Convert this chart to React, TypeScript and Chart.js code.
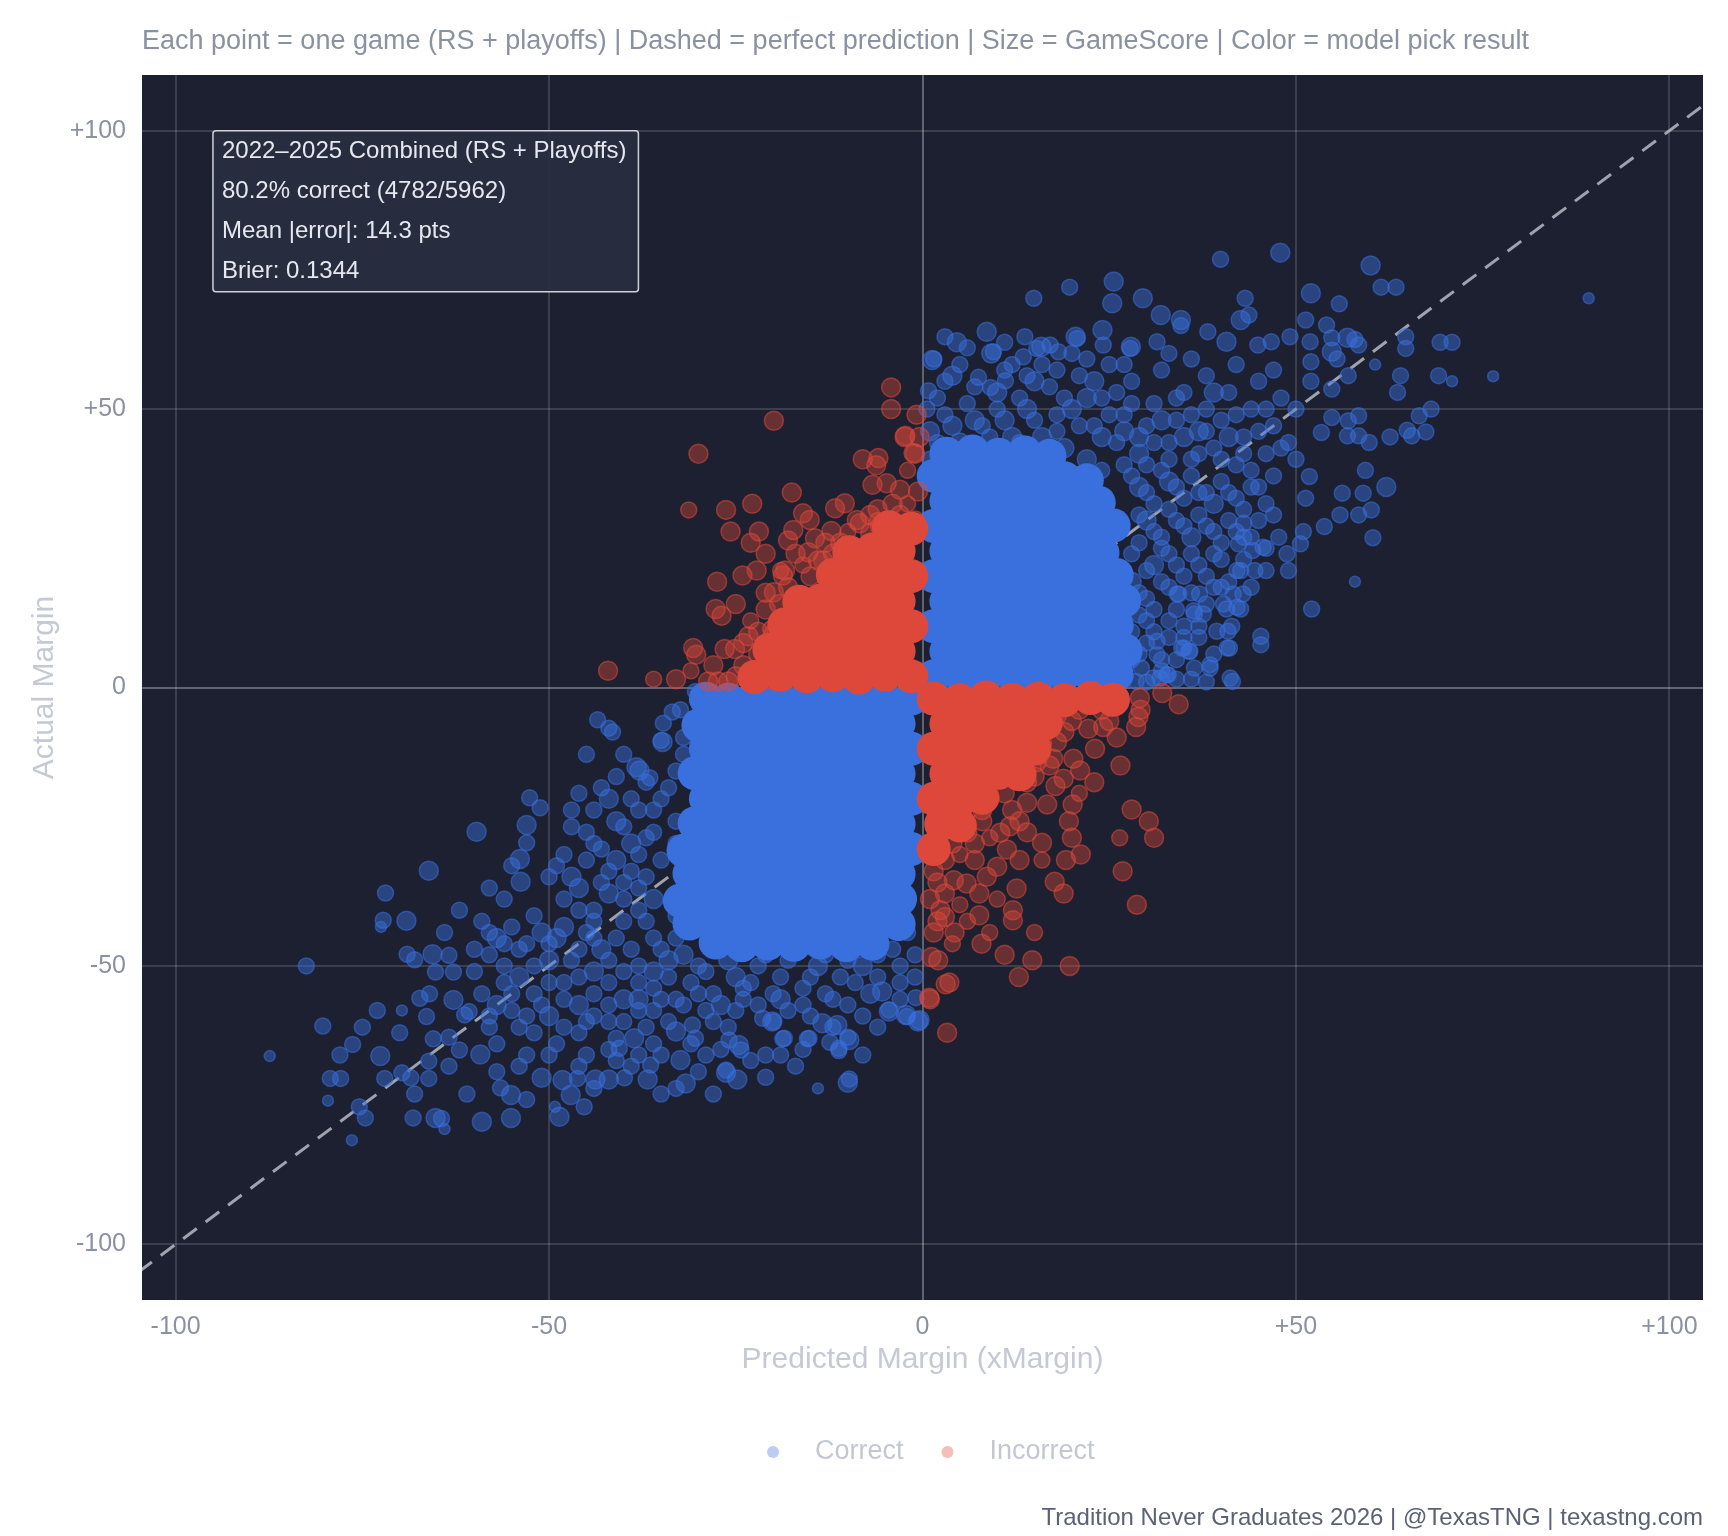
import { useEffect, useRef } from 'react';
import { Chart, registerables, ChartConfiguration } from 'chart.js';

Chart.register(...registerables);

// axis ticks
const xTicks = [-100, -50, 0, 50, 100];
const yTicks = [-100, -50, 0, 50, 100];

const seriesLabels = ['Correct', 'Incorrect'];

const summaryLines = [
    '2022–2025 Combined (RS + Playoffs)',
    '80.2% correct (4782/5962)',
    'Mean |error|: 14.3 pts',
    'Brier: 0.1344',
];

// dashed y = x reference
const perfectLine: [number, number][] = [[-105, -105], [105, 105]];

// [predicted, actual, size class (GameScore)]
const correctGames: [number, number, number][] = [
    // upper right, outer
    [39.9, 76.9, 2], [47.9, 78.1, 3], [60, 75.8, 3], [61.4, 71.9, 2], [63.4, 71.9, 2], [89.2, 69.9, 1], [52, 70.8, 3],
    [55.8, 68.9, 2], [43.2, 69.9, 2], [42.6, 66, 3], [43.7, 66.9, 2], [51.3, 66, 2], [54.1, 65.1, 2], [19.7, 71.9, 2],
    [25.6, 72.9, 3], [25.4, 69, 3], [29.5, 69.9, 3], [14.9, 69.9, 2], [31.9, 66.9, 3], [34.6, 66, 3], [34.6, 65, 2],
    [8.6, 63.9, 3], [4.6, 62, 3], [1.3, 58.8, 3], [13.7, 63, 2], [15.9, 61.2, 3], [9.2, 60, 3], [20.5, 63, 3],
    [24.1, 64.2, 3], [27.9, 61.2, 3], [31.4, 62.1, 2], [38.2, 63.9, 2], [40.7, 62.1, 3], [44.9, 61.5, 2], [46.7, 62.1, 2],
    [49.2, 63, 2], [51.9, 62.1, 2], [54.8, 62.8, 2], [56.9, 62.8, 3], [57.9, 62.5, 2], [64.7, 63, 2], [64.7, 60.9, 2],
    [69.3, 62, 2], [70.9, 62, 2], [60.6, 58, 1], [64, 56, 2], [63.6, 53, 2], [69.1, 56, 2], [70.9, 55, 1], [76.4, 55.9, 1],
    [58.4, 61.5, 2], [54.8, 60.3, 3], [55.5, 59, 2], [52, 58.5, 2], [54.8, 53.6, 2], [57, 56, 2], [66.5, 48.8, 2],
    [68.1, 50, 2], [64.9, 46.2, 2], [65.5, 45.2, 2], [67.4, 45.9, 2], [62.6, 45, 2], [59.8, 44, 2], [58.4, 45.2, 2],
    [56.9, 45.2, 2], [58.4, 48.8, 2], [57, 47.9, 2], [54.8, 48.5, 2], [53.4, 45.8, 2], [59.3, 39, 2], [62.1, 36, 3],
    [59, 34.9, 2], [56.2, 34.9, 2], [60.1, 31.9, 2], [58.4, 31, 2], [55.9, 31, 2], [60.3, 26.9, 2], [51.8, 37.9, 2],
    [51.3, 34, 2], [53.8, 28.9, 2], [51, 28, 2], [50.6, 25.8, 2], [47.7, 27, 2], [48.8, 24, 2], [49, 21, 2], [57.9, 19, 1],
    [52.1, 14.1, 2], [45.6, 25.2, 2], [44.2, 24.6, 2], [42.6, 21, 2], [44.5, 21, 2], [42.9, 16.8, 2], [40.7, 14.1, 2],
    [42.6, 14.1, 2], [41.6, 16.8, 2], [40.9, 10.1, 2], [45.3, 9.2, 2], [45.3, 7.7, 2], [41.4, 11, 2], [41.1, 7.1, 2],
    [38.5, 4.1, 2], [36.4, 3.5, 2], [41.5, 1.1, 2], [35, 7.1, 2], [35.7, 6.5, 2], [32.9, 2.3, 2], [31.8, 1.7, 2],
    [31.4, 5.9, 2], [29.3, 3.5, 2], [28.6, 1.1, 2], [37.1, 16.8, 2], [36.4, 13.2, 2], [34.3, 16.8, 2],
    [1.5, 59, 2], [0.8, 53.3, 2], [0.6, 50, 2], [7.5, 55.7, 2], [9.1, 53.9, 2], [11.1, 55.1, 2], [14, 56, 2],
    [15.3, 60.9, 2], [17.1, 61.5, 2], [18.2, 60.3, 2], [9.5, 60.3, 2], [13.5, 59.4, 2], [20.7, 62.7, 2], [24.2, 61.5, 2],
    [27.8, 60.9, 2], [39.4, 10.1, 2], [40.8, 7.1, 2], [38.5, 3.5, 2], [41.2, 1.7, 2], [35.8, 6.5, 2], [34.7, 7.1, 2],
    [34.1, 16.8, 2], [36.3, 13.8, 2], [37.6, 13.2, 2], [42.1, 14.4, 2], [40.3, 15, 2], [31.4, 8.3, 2], [30.9, 1.7, 2],
    [32.7, 2.3, 2], [42.1, 21, 2], [42.3, 25.8, 2], [43, 29.5, 2],
    // upper right, middle band
    [2, 44, 2], [4, 47, 3], [6, 51, 2], [3, 55, 2], [8, 47, 2], [10, 50, 2], [12, 45, 3], [13, 52, 2], [15, 48, 2],
    [17, 54, 2], [18, 46, 2], [20, 50, 3], [21, 56, 2], [23, 47, 2], [24, 52, 2], [26, 44, 2], [27, 49, 2], [28, 55, 2],
    [29, 42, 3], [30, 47, 2], [31, 51, 2], [32, 57, 2], [33, 44, 2], [34, 48, 2], [35, 53, 2], [36, 41, 2], [37, 46, 3],
    [38, 50, 2], [38, 56, 2], [39, 43, 2], [40, 48, 2], [41, 53, 2], [42, 40, 2], [43, 45, 2], [44, 50, 2], [45, 55, 2],
    [46, 42, 2], [47, 47, 2], [48, 52, 2], [49, 44, 2], [50, 41, 2], [5, 58, 2], [11, 57, 2], [16, 58, 2], [22, 59, 2],
    [27, 58, 2], [33, 60, 2], [36, 59, 2], [42, 58, 2], [47, 57, 2], [52, 55, 2], [50, 50, 2],
    [28, 38, 2], [30, 35, 2], [32, 39, 2], [34, 36, 2], [36, 38, 2], [38, 35, 2], [40, 37, 2], [42, 34, 2], [44, 36, 2],
    [46, 33, 2], [29, 31, 2], [31, 28, 2], [33, 32, 2], [35, 29, 2], [37, 31, 2], [39, 28, 2], [41, 30, 2], [43, 27, 2],
    [45, 30, 2], [28, 24, 2], [30, 21, 2], [32, 25, 2], [34, 22, 2], [36, 24, 2], [38, 20, 2], [40, 23, 2], [29, 17, 2],
    [31, 14, 2], [33, 18, 2], [35, 11, 2], [28, 10, 2], [30, 12, 2], [33, 9, 2], [37, 9, 2], [29, 6, 2], [32, 5, 2],
    [27, 3, 2], [34, 1.5, 2], [39, 18, 2], [44, 18, 2],
    [1, 46, 3], [3, 49, 2], [5, 44, 3], [7, 48, 3], [9, 45, 2], [11, 48, 3], [13, 44, 2], [14, 50, 3], [16, 45, 3],
    [18, 49, 2], [19, 43, 3], [21, 47, 2], [22, 52, 3], [24, 45, 3], [25, 49, 2], [26, 53, 2], [27, 46, 3], [2, 52, 2],
    [4, 56, 3], [7, 54, 2], [10, 53, 3], [12, 58, 2], [15, 55, 3], [18, 57, 2], [19, 52, 2], [23, 55, 3], [25, 58, 2],
    [28, 51, 2], [6, 61, 2], [3, 63, 2], [11, 62, 2], [20, 60, 2], [8, 42, 3], [15, 41, 2], [22, 41, 3], [24, 39, 2],
    [27, 40, 2], [1, 41, 2], [3, 38, 2], [17, 38, 2],
    [29, 45, 3], [30, 40, 2], [31, 44, 2], [32, 48, 3], [33, 41, 2], [34, 52, 2], [35, 45, 3], [36, 49, 2], [37, 42, 2],
    [38, 46, 2], [39, 53, 3], [40, 41, 2], [41, 45, 3], [42, 49, 2], [43, 42, 2], [44, 39, 2], [45, 46, 2], [46, 50, 2],
    [47, 38, 2], [48, 43, 2], [29, 36, 3], [31, 33, 2], [33, 37, 3], [35, 34, 2], [37, 35, 2], [39, 33, 3], [41, 35, 2],
    [43, 32, 2], [45, 36, 2], [47, 31, 2], [30, 30, 3], [32, 27, 2], [34, 30, 2], [36, 27, 3], [38, 29, 2], [40, 26, 2],
    [42, 28, 2], [44, 27, 2], [46, 25, 2], [29, 26, 2], [31, 22, 3], [33, 24, 2], [35, 20, 2], [37, 22, 2], [39, 24, 2],
    [41, 19, 2], [43, 23, 2], [46, 21, 2], [28, 19, 3], [30, 16, 2], [32, 19, 2], [34, 14, 2], [36, 17, 2], [38, 15, 2],
    [40, 18, 2], [29, 13, 2], [31, 10, 2], [33, 12, 2], [35, 9, 2], [37, 11, 2], [30, 8, 2], [28, 5, 2], [32, 3, 2],
    [34, 5, 2], [36, 1.5, 2], [39, 6, 2], [38, 1, 2], [30, 1, 2],
    // lower left, outer
    [-87.4, -66.2, 1], [-82.5, -50, 2], [-76.3, -64.1, 2], [-72.6, -66.2, 3], [-79.3, -70.2, 2], [-77.9, -70.2, 2],
    [-79.6, -74.2, 1], [-75.4, -75.3, 2], [-74.6, -77.3, 2], [-76.4, -81.3, 1], [-72, -70.2, 2], [-69.7, -69.2, 2],
    [-68.5, -70.1, 2], [-66.1, -70.2, 2], [-68.2, -77.3, 2], [-65.2, -77.3, 3], [-64.4, -77.4, 2], [-64, -79.3, 1],
    [-59, -78, 3], [-55.1, -77.3, 3], [-66.1, -32.9, 3], [-71.9, -36.9, 2], [-72.2, -41.8, 2], [-72.5, -43, 1],
    [-69.1, -41.9, 3], [-59.7, -25.9, 3], [-52.6, -19.8, 2], [-51.2, -21.6, 2], [-53, -24.7, 3], [-53, -27.9, 2],
    [-53.9, -30.8, 3], [-53.8, -34.9, 3], [-69, -47.9, 2], [-68, -48.9, 2], [-65.6, -47.9, 3], [-63.4, -48.1, 2],
    [-65.2, -51.1, 2], [-62.8, -51.1, 2], [-67.3, -55.8, 2], [-69.7, -58, 1], [-66.4, -59.1, 2], [-62.8, -56.1, 3],
    [-61.3, -58.8, 2], [-60.7, -58.2, 2], [-65.5, -63.1, 2], [-63.4, -62.8, 2], [-62, -65.1, 2], [-59.2, -65.9, 3],
    [-66.1, -67.1, 2], [-63.4, -68, 2], [-56.5, -71.9, 2], [-55.1, -73.2, 3], [-51, -70.1, 3], [-48.6, -77.1, 3],
    [-49.2, -75.3, 1], [-47.1, -73.2, 3], [-45.3, -75.3, 2], [-48.2, -70.5, 3], [-46.2, -70.2, 2], [-43.8, -70.4, 3],
    [-42, -70.4, 3], [-39.9, -70.1, 2], [-36.8, -70.4, 3], [-31.7, -71.1, 3], [-26.3, -69.2, 3], [-24.8, -70.4, 3],
    [-10, -71, 3], [-43.5, -5.8, 2], [-42, -7.3, 2], [-38.3, -14.3, 3], [-36.5, -16.2, 2], [-34.7, -6.4, 2],
    [-35, -9.5, 2], [-18.7, -63.1, 2], [-15.4, -63.1, 2], [-12.4, -63.7, 2], [-11.2, -65.2, 2], [-10, -62.8, 2],
    [-5.4, -54.6, 3], [-4.5, -58.2, 3], [-2.1, -59.1, 2], [-0.6, -60, 3], [-41.5, -8, 2], [-37.9, -14.9, 3],
    [-34.8, -9.8, 3], [-33.5, -4.4, 2], [-32.4, -4, 2], [-30.4, -0.7, 2], [-30.1, -2.2, 2], [-4.5, -57.9, 2],
    [-0.4, -59.7, 3], [-2.2, -58.8, 3], [-0.9, -55.7, 2], [-9.8, -63.3, 3], [-11.2, -64.8, 2], [-15.2, -63, 2],
    [-13.4, -60.3, 3], [-11.4, -60.6, 3], [-18.5, -63, 2], [-20.1, -60, 3], [-21.4, -59.4, 2], [-24.6, -64.2, 3],
    [-25.9, -63.3, 2], [-24.3, -65.1, 2], [-26.3, -68.7, 2], [-32.4, -66.9, 3], [-36.4, -67.8, 2], [-38.6, -63, 3],
    [-40.6, -64.8, 2], [-9.8, -70.3, 2], [-33, -61.8, 3], [-30.8, -60.6, 2], [-30.4, -63, 2], [-80.3, -60.8, 2],
    // lower left, middle band
    [-45, -12, 2], [-43, -18, 2], [-47, -22, 2], [-41, -24, 3], [-44, -28, 2], [-48, -30, 2], [-39, -20, 2],
    [-37, -27, 2], [-50, -34, 2], [-46, -36, 3], [-42, -33, 2], [-38, -36, 2], [-35, -31, 2], [-56, -38, 2],
    [-52, -41, 2], [-48, -43, 3], [-44, -40, 2], [-40, -42, 2], [-36, -45, 2], [-58, -44, 2], [-54, -47, 2],
    [-50, -49, 3], [-46, -47, 2], [-42, -49, 2], [-38, -50, 2], [-60, -51, 2], [-56, -53, 2], [-52, -55, 2],
    [-48, -53, 2], [-44, -55, 2], [-40, -56, 3], [-36, -54, 2], [-32, -57, 2], [-28, -55, 2], [-24, -56, 2],
    [-20, -55, 2], [-16, -54, 2], [-12, -56, 2], [-58, -59, 2], [-54, -61, 2], [-50, -59, 3], [-46, -62, 2],
    [-42, -60, 2], [-38, -58, 2], [-34, -60, 2], [-28, -60, 2], [-25, -58, 2], [-18, -58, 2], [-8, -59, 2],
    [-6, -52, 2], [-3, -50, 2], [-57, -64, 2], [-53, -66, 2], [-49, -64, 2], [-45, -66, 2], [-41, -67, 2],
    [-36, -64, 2], [-29, -66, 2], [-21, -66, 2], [-17, -68, 2], [-44, -45, 2], [-55, -32, 2], [-58, -36, 2],
    [-62, -40, 2], [-64, -44, 2], [-60, -47, 2], [-66, -55, 2], [-70, -62, 2], [-73, -58, 2], [-75, -61, 2],
    [-78, -66, 2], [-68, -73, 2], [-61, -73, 2], [-57, -69, 2], [-53, -74, 2], [-38, -66, 2], [-33, -72, 2],
    [-28, -73, 2], [-21, -70, 2], [-14, -72, 1], [-34, -49, 3], [-30, -50, 2], [-26, -49, 3], [-22, -50, 2],
    [-18, -49, 2], [-14, -50, 3], [-10, -49, 2], [-6, -48, 2], [-31, -53, 2], [-23, -53, 2], [-15, -52, 2],
    [-9, -53, 2], [-32, -12, 2], [-34, -18, 2], [-33, -24, 2], [-36, -22, 2], [-40, -12, 2], [-38, -30, 2],
    [-40, -35, 2], [-33, -28, 2],
    [-59, -42, 2], [-57, -45, 3], [-55, -43, 2], [-53, -46, 2], [-51, -44, 3], [-58, -48, 2], [-56, -50, 2],
    [-54, -52, 3], [-52, -50, 2], [-50, -53, 2], [-59, -55, 2], [-57, -57, 3], [-55, -58, 2], [-53, -59, 2],
    [-51, -57, 2], [-58, -61, 2], [-52, -62, 2], [-56, -46, 2], [-50, -46, 2], [-55, -55, 2],
    [-49, -32, 2], [-47, -34, 3], [-45, -31, 2], [-43, -35, 2], [-41, -31, 3], [-39, -33, 2], [-37, -34, 2],
    [-36, -38, 3], [-38, -40, 2], [-40, -38, 2], [-42, -37, 3], [-44, -42, 2], [-46, -40, 2], [-48, -38, 2],
    [-49, -45, 3], [-47, -49, 2], [-45, -44, 2], [-43, -47, 3], [-41, -45, 2], [-39, -47, 2], [-37, -42, 2],
    [-35, -47, 2], [-36, -51, 3], [-38, -53, 2], [-40, -51, 2], [-42, -53, 2], [-44, -51, 3], [-46, -52, 2],
    [-48, -56, 2], [-46, -57, 3], [-44, -59, 2], [-42, -57, 2], [-40, -60, 2], [-38, -56, 3], [-36, -58, 2],
    [-48, -61, 2], [-45, -60, 2], [-41, -63, 2], [-37, -61, 2], [-35, -56, 2],
    [-46, -19, 2], [-44, -22, 2], [-42, -20, 3], [-40, -25, 2], [-38, -22, 2], [-36, -26, 2], [-45, -26, 2],
    [-43, -29, 2], [-39, -28, 3], [-35, -20, 2], [-37, -17, 2], [-41, -16, 2], [-47, -25, 2], [-33, -15, 2],
    [-32, -9, 2],
    [-33, -41, 2], [-33, -45, 2], [-32, -48, 3], [-29, -51, 2], [-27, -47, 2], [-25, -52, 3], [-21, -48, 2],
    [-19, -52, 2], [-17, -47, 3], [-13, -48, 2], [-11, -52, 2], [-8, -50, 3], [-4, -47, 2], [-2, -44, 2],
    [-1, -48, 2], [-5, -42, 2], [-30, -55, 2], [-27, -57, 3], [-24, -54, 2], [-22, -57, 2], [-19, -56, 3],
    [-16, -57, 2], [-13, -55, 2], [-10, -57, 2], [-7, -55, 3], [-3, -56, 2], [-1, -52, 2], [-34, -52, 2],
    [-29, -58, 2], [-20, -60, 2], [-15, -59, 2], [-6, -61, 2], [-26, -61, 2], [-33, -56, 2], [-12, -61, 2],
    [-3, -53, 2],
    [-54, -68, 2], [-50, -66, 2], [-46, -68, 2], [-42, -65, 2], [-39, -68, 2], [-35, -66, 2], [-31, -64, 2],
    [-27, -65, 2], [-23, -67, 2], [-19, -66, 2], [-16, -65, 2], [-8, -66, 2], [-44, -72, 2], [-35, -73, 2],
    [-30, -69, 2],
];

const incorrectGames: [number, number, number][] = [
    // upper left
    [-4.2, 53.9, 3], [-4.2, 50, 3], [-0.8, 49, 3], [-19.9, 47.9, 3], [-2.4, 45, 3], [-0.4, 45, 3], [-1, 42, 3],
    [-30, 42, 3], [-8, 41, 3], [-5.9, 41.2, 3], [-6.2, 39.9, 3], [-17.5, 35, 3], [-31.3, 31.9, 2], [-26.3, 31.9, 3],
    [-22.8, 33, 3], [-25.7, 28, 3], [-21.9, 28, 3], [-11.7, 32.2, 3], [-10.4, 33.1, 3], [-8.8, 30.1, 3],
    [-16, 31.3, 3], [-15.1, 30.1, 3], [-6.7, 36.4, 3], [-4.8, 36.7, 3], [-3, 35.5, 3], [-0.6, 35.2, 3],
    [-12.2, 28.1, 3], [-17.3, 28.3, 3], [-18, 26.4, 3], [-14.4, 26.8, 3], [-15.3, 24.3, 3], [-14, 22.8, 3],
    [-27.5, 19, 3], [-24.1, 20.1, 3], [-22.2, 21, 3], [-18.4, 21, 3], [-18.7, 20.1, 3], [-19.9, 17.1, 3],
    [-19.2, 15, 3], [-27.7, 14.1, 3], [-26.9, 12.9, 3], [-30.7, 7.1, 3], [-30.3, 5.9, 3], [-42.1, 3, 3],
    [-26.5, 6.9, 3], [-25.1, 6.9, 3], [-23.3, 9.2, 3], [-28.7, 1.1, 3], [-27.4, 1.1, 3], [-26, 1.1, 3],
    [-20.1, 10.4, 3], [-20, 9.5, 3], [-16.7, 16.2, 3], [-16, 14.4, 3], [-12.4, 19.2, 3], [-13.3, 22.8, 3],
    [-10.6, 21, 3], [-8.4, 29.5, 3], [-7, 27.7, 3], [-5.7, 28.9, 3], [-1.2, 42.1, 3], [-2.3, 45.2, 3],
    [-22, 3, 3], [-20, 5, 3], [-23, 12, 2], [-21, 14, 3], [-17, 10, 3], [-11, 26, 3], [-9, 24, 2], [-3, 31, 3],
    [-1, 30, 3], [-6, 32, 3], [-2, 39, 2], [-13, 17, 3], [-24, 4, 3], [-18, 3, 3], [-33, 1.5, 3], [-31, 3, 2],
    [-36, 1.5, 2], [-21, 24, 3], [-23, 26, 3],
    [-24, 8, 3], [-22, 10, 3], [-25, 15, 3], [-21, 17, 3], [-19, 21, 2], [-17, 24, 3], [-13, 26, 3], [-10, 28, 2],
    [-7, 31, 3], [-4, 33, 3], [-2, 33, 2], [-12, 24, 3], [-15, 20, 3], [-18, 18, 3], [-22, 6, 3], [-28, 4, 3],
    [-25, 2, 3], [-20, 1, 2], [-16, 22, 2], [-6, 30, 2],
    // lower right
    [34.3, -3, 3], [32.1, -1, 3], [29.1, -1.9, 3], [29.2, -4, 3], [28.9, -5.3, 3], [28.6, -7.1, 3], [26.5, -14, 3],
    [24.2, -7.1, 3], [23.1, -11, 3], [22.2, -7.4, 3], [21.1, -14.9, 3], [20.1, -21, 3], [19.6, -24, 3], [20, -27, 3],
    [28, -21.9, 3], [30.3, -24, 3], [31, -27, 3], [26.4, -27, 2], [26.8, -33, 3], [28.7, -39, 3], [21.2, -30, 3],
    [19.2, -31, 3], [16, -27.9, 3], [17.7, -34.9, 3], [18.9, -37, 3], [13, -31, 3], [12.6, -36.1, 3], [12.1, -40, 3],
    [12.1, -41.8, 3], [7.6, -37, 3], [7.6, -40.9, 3], [4.3, -44, 3], [7.9, -46, 3], [11, -48, 3], [14.7, -49, 3],
    [12.9, -52, 3], [19.7, -50, 3], [3.6, -53, 3], [1, -56, 3], [3.3, -62, 3], [2.1, -49, 3], [2.4, -40, 3],
    [3, -41.2, 3], [4.2, -34.6, 3], [5.9, -35.2, 3], [8.6, -34, 3], [10, -32.2, 3], [11.3, -29.1, 3],
    [10.4, -26.1, 3], [11.7, -24.9, 3], [14, -20.7, 3], [16.7, -21, 3], [17.8, -17.7, 3], [18.9, -16.4, 3],
    [15.3, -13.4, 3], [17.5, -12.8, 3], [20.2, -12.8, 3], [18, -9.8, 3], [0.9, -55.7, 3], [3.1, -53.3, 3],
    [1.2, -48.4, 3], [1.5, -33, 3], [3, -37, 3], [1.5, -44, 3], [5, -30, 2], [8, -24, 3], [7, -28, 3], [9, -20, 3],
    [12, -22, 3], [4, -46, 2], [1, -38, 3], [6, -42, 2], [14, -26, 3], [24, -4, 3], [21, -4, 3], [26, -9, 3],
    [18, -5, 3], [10, -38, 2], [15, -44, 2], [9, -44, 2], [23, -17, 3], [21, -19, 2], [16, -31, 2],
    [17, -2, 3], [20, -6, 3], [22, -3, 3], [25, -6, 3], [19, -8, 3], [16, -10, 3], [14, -17, 3], [11, -19, 3],
    [8, -22, 3], [6, -26, 3], [3, -31, 3], [2, -35, 3], [4, -28, 3], [9, -27, 2], [13, -24, 3], [15, -16, 3],
    [17, -14, 3], [7, -31, 3], [5, -39, 2], [2, -42, 3],
];

// solid cores where thousands of games overlap
const correctDense: [number, number][] = [
    [1.5, 2], [5, 2.3], [8.4, 1.8], [12.1, 2.2], [15.5, 1.9], [19, 2.4], [22.6, 2], [26, 2.3],
    [3.2, 6.5], [6.8, 6.8], [10.2, 6.3], [13.7, 6.7], [17.2, 6.4], [20.6, 6.9], [24.2, 6.3], [27.2, 6.6],
    [1.5, 11], [5.1, 11.3], [8.5, 10.8], [12, 11.2], [15.6, 11], [19, 11.4], [22.5, 10.8], [26, 11.2],
    [3.2, 15.5], [6.7, 15.8], [10.3, 15.3], [13.7, 15.6], [17.1, 15.4], [20.7, 15.8], [24.2, 15.2], [27, 15.6],
    [1.5, 20], [5, 20.3], [8.6, 19.8], [12, 20.2], [15.5, 20], [19.1, 20.4], [22.5, 19.8], [26, 20.2],
    [3.2, 24.5], [6.7, 24.8], [10.2, 24.3], [13.8, 24.6], [17.2, 24.4], [20.7, 24.8], [24.1, 24.2],
    [1.5, 29], [5, 29.3], [8.5, 28.8], [12.1, 29.2], [15.5, 29], [19, 29.4], [22.5, 28.8], [25.6, 29.1],
    [3.2, 33.5], [6.7, 33.8], [10.2, 33.3], [13.7, 33.6], [17.2, 33.4], [20.7, 33.8], [23.6, 33.2],
    [1.5, 38], [5, 38.3], [8.5, 37.8], [12, 38.2], [15.5, 38], [19, 37.6], [22, 37.2],
    [3.2, 42], [6.7, 42.4], [10.2, 41.8], [13.7, 42.2], [17, 41.6],
    [-1.5, -2], [-5, -2.3], [-8.5, -1.8], [-12, -2.2], [-15.5, -2], [-19, -2.4], [-22.5, -1.9], [-26, -2.2], [-29, -2],
    [-3.2, -6.5], [-6.7, -6.8], [-10.2, -6.3], [-13.7, -6.7], [-17.2, -6.5], [-20.7, -6.9], [-24.2, -6.3], [-27.7, -6.6], [-30, -6.8],
    [-1.5, -11], [-5, -11.3], [-8.5, -10.8], [-12, -11.2], [-15.5, -11], [-19, -11.4], [-22.5, -10.8], [-26, -11.2], [-29, -11],
    [-3.2, -15.5], [-6.7, -15.8], [-10.2, -15.3], [-13.7, -15.6], [-17.2, -15.4], [-20.7, -15.8], [-24.2, -15.2], [-27.7, -15.6], [-30.5, -15.4],
    [-1.5, -20], [-5, -20.3], [-8.5, -19.8], [-12, -20.2], [-15.5, -20], [-19, -20.4], [-22.5, -19.8], [-26, -20.2], [-29, -20],
    [-3.2, -24.5], [-6.7, -24.8], [-10.2, -24.3], [-13.7, -24.6], [-17.2, -24.4], [-20.7, -24.8], [-24.2, -24.2], [-27.7, -24.6], [-30.5, -24.4],
    [-1.5, -29], [-5, -29.3], [-8.5, -28.8], [-12, -29.2], [-15.5, -29], [-19, -29.4], [-22.5, -28.8], [-26, -29.2], [-29, -29], [-32, -29.3],
    [-3.2, -33.5], [-6.7, -33.8], [-10.2, -33.3], [-13.7, -33.6], [-17.2, -33.4], [-20.7, -33.8], [-24.2, -33.2], [-27.7, -33.6], [-31.2, -33.4],
    [-3, -38], [-5.2, -38.3], [-8.5, -37.8], [-12, -38.2], [-15.5, -38], [-19, -38.4], [-22.5, -37.8], [-26, -38.2], [-29.5, -38], [-32.5, -38.3],
    [-3.2, -42.5], [-6.7, -42.8], [-10.2, -42.3], [-13.7, -42.6], [-17.2, -42.4], [-20.7, -42.8], [-24.2, -42.2], [-27.7, -42.6], [-31.2, -42.4],
    [-6.7, -46], [-10.2, -46.3], [-13.7, -45.8], [-17.2, -46.2], [-20.7, -46], [-24.2, -46.3], [-27.7, -45.8],
];

const incorrectDense: [number, number][] = [
    [-1.5, 2], [-5, 2.3], [-8.5, 1.8], [-12, 2.2], [-15.5, 2], [-19, 2.3], [-22.5, 1.9],
    [-3.2, 6.5], [-6.7, 6.8], [-10.2, 6.3], [-13.7, 6.7], [-17.2, 6.4], [-20.5, 6.8],
    [-1.5, 11], [-5, 11.3], [-8.5, 10.8], [-12, 11.2], [-15.5, 11], [-18.5, 11.3],
    [-3.2, 15.5], [-6.7, 15.8], [-10.2, 15.3], [-13.7, 15.6], [-16.5, 15.4],
    [-1.5, 20], [-5, 20.3], [-8.5, 19.8], [-12, 20.2],
    [-3.2, 24.5], [-6.7, 24.8], [-9.8, 24.3],
    [-1.5, 28.5], [-4.5, 28.8],
    [1.5, -2], [5, -2.3], [8.5, -1.8], [12, -2.2], [15.5, -2], [19, -2.3], [22.5, -1.9], [25.5, -2.2],
    [3.2, -6.5], [6.7, -6.8], [10.2, -6.3], [13.7, -6.7], [16.5, -6.4],
    [1.5, -11], [5, -11.3], [8.5, -10.8], [12, -11.2], [15, -11],
    [3.2, -15.5], [6.7, -15.8], [10.2, -15.3], [13, -15.6],
    [1.5, -20], [5, -20.3], [8, -19.8],
    [2.5, -24.5], [5, -24.8],
    [1.5, -29],
];

const FONT = '"Liberation Sans", Arial, sans-serif';
const BLUE = '58, 112, 222';
const RED = '222, 72, 58';
const sizeRadius = [0, 5.5, 8, 9.5];

const fmtTick = (v: number | string) => {
    const n = Number(v);
    return n > 0 ? `+${n}` : `${n}`;
};

// plot background + text blocks drawn on the canvas
const decorPlugin = {
    id: 'decor',
    beforeDraw(chart: Chart) {
        const { ctx, chartArea: a } = chart;
        ctx.save();
        ctx.fillStyle = '#ffffff';
        ctx.fillRect(0, 0, chart.width, chart.height);
        ctx.fillStyle = '#1c2030';
        ctx.fillRect(a.left, a.top, a.right - a.left, a.bottom - a.top);
        ctx.restore();
    },
    afterDraw(chart: Chart) {
        const { ctx, chartArea: a, scales } = chart;
        ctx.save();

        // subtitle
        ctx.font = `27px ${FONT}`;
        ctx.fillStyle = '#8a91a0';
        ctx.textBaseline = 'middle';
        ctx.textAlign = 'left';
        ctx.fillText(
            'Each point = one game (RS + playoffs) | Dashed = perfect prediction | Size = GameScore | Color = model pick result',
            a.left,
            42
        );

        // summary box
        ctx.font = `24px ${FONT}`;
        const bx = scales.x.getPixelForValue(-95);
        const by = scales.y.getPixelForValue(100);
        const bw = Math.max(...summaryLines.map((t) => ctx.measureText(t).width)) + 21;
        const bh = 161;
        ctx.beginPath();
        ctx.roundRect(bx, by, bw, bh, 3);
        ctx.fillStyle = 'rgba(40, 45, 63, 0.95)';
        ctx.fill();
        ctx.lineWidth = 1.5;
        ctx.strokeStyle = 'rgba(225, 228, 236, 0.9)';
        ctx.stroke();
        ctx.fillStyle = '#e6e8ef';
        ctx.textBaseline = 'alphabetic';
        summaryLines.forEach((t, i) => ctx.fillText(t, bx + 9, by + 27 + i * 40));

        // legend
        ctx.font = `27px ${FONT}`;
        ctx.textBaseline = 'middle';
        const ly = 1452;
        let lx = 773;
        const colors = [BLUE, RED];
        seriesLabels.forEach((label, i) => {
            ctx.beginPath();
            ctx.arc(lx, ly, 6, 0, Math.PI * 2);
            ctx.fillStyle = `rgba(${colors[i]}, 0.35)`;
            ctx.fill();
            ctx.fillStyle = '#c3c7d2';
            ctx.fillText(label, lx + 42, ly);
            lx += 42 + ctx.measureText(label).width + 44;
        });

        // footer
        ctx.font = `24px ${FONT}`;
        ctx.fillStyle = '#5b6273';
        ctx.textAlign = 'right';
        ctx.fillText('Tradition Never Graduates 2026 | @TexasTNG | texastng.com', a.right, 1518);

        ctx.restore();
    },
};

const gridColor = (c: any) =>
    c.tick && c.tick.value === 0 ? 'rgba(255, 255, 255, 0.3)' : 'rgba(255, 255, 255, 0.14)';

const MarginScatter = () => {
    const canvasRef = useRef<HTMLCanvasElement | null>(null);
    const chartInstance = useRef<Chart | null>(null);

    useEffect(() => {
        document.body.style.margin = '0';
        if (!canvasRef.current) return;
        if (chartInstance.current) chartInstance.current.destroy();

        const config: ChartConfiguration<'scatter'> = {
            type: 'scatter',
            data: {
                datasets: [
                    {
                        label: seriesLabels[0],
                        data: correctGames.map(([x, y]) => ({ x, y })),
                        pointRadius: correctGames.map((p) => sizeRadius[p[2]]),
                        backgroundColor: `rgba(${BLUE}, 0.45)`,
                        borderColor: `rgba(${BLUE}, 0.55)`,
                        borderWidth: 1.5,
                        order: 6,
                    },
                    {
                        label: seriesLabels[1],
                        data: incorrectGames.map(([x, y]) => ({ x, y })),
                        pointRadius: incorrectGames.map((p) => sizeRadius[p[2]]),
                        backgroundColor: `rgba(${RED}, 0.4)`,
                        borderColor: `rgba(${RED}, 0.55)`,
                        borderWidth: 1.5,
                        order: 2,
                    },
                    {
                        label: seriesLabels[0],
                        data: correctDense.map(([x, y]) => ({ x, y })),
                        pointRadius: 17,
                        backgroundColor: `rgb(${BLUE})`,
                        borderWidth: 0,
                        order: 7,
                    },
                    {
                        label: seriesLabels[1],
                        data: incorrectDense.map(([x, y]) => ({ x, y })),
                        pointRadius: 17,
                        backgroundColor: `rgb(${RED})`,
                        borderWidth: 0,
                        order: 3,
                    },
                    {
                        label: 'Perfect prediction',
                        data: perfectLine.map(([x, y]) => ({ x, y })),
                        showLine: true,
                        pointRadius: 0,
                        borderColor: 'rgba(190, 196, 208, 0.8)',
                        borderWidth: 3,
                        borderDash: [17, 11],
                        order: 10,
                    },
                ],
            },
            options: {
                animation: false,
                responsive: false,
                devicePixelRatio: 1,
                layout: { padding: { top: 75, right: 25, left: 0, bottom: 0 } },
                plugins: {
                    legend: { display: false },
                    tooltip: { enabled: false },
                },
                scales: {
                    x: {
                        type: 'linear',
                        min: -104.5,
                        max: 104.5,
                        afterBuildTicks: (s) => {
                            s.ticks = xTicks.map((v) => ({ value: v }));
                        },
                        afterFit: (s) => {
                            s.height = 236;
                        },
                        ticks: {
                            callback: fmtTick,
                            color: '#8a91a0',
                            font: { family: FONT, size: 25 },
                            padding: 12,
                            maxRotation: 0,
                            autoSkip: false,
                        },
                        grid: { color: gridColor, lineWidth: 2, drawTicks: false },
                        border: { display: false },
                        title: {
                            display: true,
                            text: 'Predicted Margin (xMargin)',
                            color: '#c5c9d4',
                            font: { family: FONT, size: 30 },
                            padding: { top: 0, bottom: 158 },
                        },
                    },
                    y: {
                        type: 'linear',
                        min: -110,
                        max: 110,
                        afterBuildTicks: (s) => {
                            s.ticks = yTicks.map((v) => ({ value: v }));
                        },
                        afterFit: (s) => {
                            s.width = 142;
                        },
                        ticks: {
                            callback: fmtTick,
                            color: '#8a91a0',
                            font: { family: FONT, size: 25 },
                            padding: 16,
                            autoSkip: false,
                        },
                        grid: { color: gridColor, lineWidth: 2, drawTicks: false },
                        border: { display: false },
                        title: {
                            display: true,
                            text: 'Actual Margin',
                            color: '#c5c9d4',
                            font: { family: FONT, size: 30 },
                            padding: { top: 27, bottom: 0 },
                        },
                    },
                },
            },
            plugins: [decorPlugin],
        };

        chartInstance.current = new Chart(canvasRef.current, config);

        return () => {
            if (chartInstance.current) {
                chartInstance.current.destroy();
                chartInstance.current = null;
            }
        };
    }, []);

    return (
        <div style={{ width: 1728, height: 1536, background: '#ffffff' }}>
            <canvas ref={canvasRef} width={1728} height={1536} />
        </div>
    );
};

export default function App() {
    return <MarginScatter />;
}
